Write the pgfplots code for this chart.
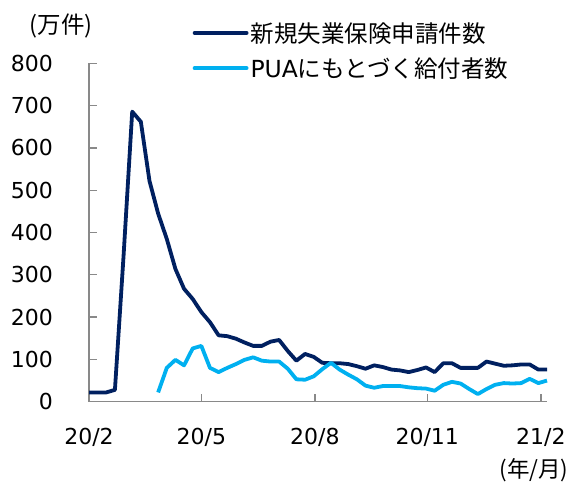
\documentclass[border=0pt]{standalone}
\usepackage{pgfplots}
\pgfplotsset{compat=1.18}
\usepackage{fontspec}
\setmainfont{DejaVu Sans}
\newfontfamily\jp{Noto Sans CJK JP}
\definecolor{navy}{RGB}{0,32,96}
\definecolor{sky}{RGB}{0,176,240}
\definecolor{axgray}{RGB}{137,137,137}
\begin{document}
\begin{tikzpicture}
\useasboundingbox (0pt,0pt) rectangle (578pt,-483pt);
\begin{axis}[
  at={(89pt,-401.7pt)}, anchor=south west,
  scale only axis, width=458pt, height=338.3pt,
  xmin=0, xmax=53, ymin=0, ymax=800,
  axis x line*=bottom, axis y line*=left,
  axis line style={draw=axgray, line width=1.3pt},
  tick align=inside, major tick length=8pt,
  tick style={draw=axgray, line width=1.3pt},
  xtick={0,13,26.14,39.14,52.29},
  xticklabels={20/2,20/5,20/8,20/11,21/2},
  ytick={0,100,...,800},
  /pgf/number format/assume math mode=true,
  tick label style={font=\fontsize{22}{26}\selectfont},
  yticklabel style={anchor=east, inner sep=0pt, xshift=-36pt},
  xticklabel style={anchor=center, inner sep=0pt, yshift=-36pt},
  clip=false,
  legend style={draw=none, fill=none, inner sep=0pt, at={(0.226,1.128)}, anchor=north west,
    font=\fontsize{23.5}{28}\selectfont, row sep=10pt},
  legend cell align=left,
  legend image code/.code={\draw[#1, line cap=round] (2pt,0pt) -- (54pt,0pt);},
]
\addplot[navy, line width=3.8pt, line join=round] coordinates {
(0,22)(1,22)(2,22)(3,28)(4,345)(5,686)(6,662)(7,522)(8,445)(9,385)
(10,314)(11,267)(12,243)(13,212)(14,188)(15,157)(16,155)(17,149)(18,140)(19,132)
(20,132)(21,142)(22,146)(23,120)(24,97)(25,113)(26,106)(27,92)(28,91)(29,91)
(30,89)(31,84)(32,78)(33,86)(34,82)(35,76)(36,74)(37,70)(38,75)(39,81)
(40,70)(41,91)(42,91)(43,80)(44,80)(45,80)(46,95)(47,90)(48,85)(49,86)
(50,88)(51,88)(52,76)(53,76)
};
\addlegendentry{{\jp 新規失業保険申請件数}}
\addplot[sky, line width=3.8pt, line join=round] coordinates {
(8,22)(9,80)(10,99)(11,86)(12,126)(13,132)(14,80)(15,70)(16,80)(17,89)
(18,99)(19,105)(20,97)(21,95)(22,95)(23,78)(24,53)(25,52)(26,60)(27,77)
(28,92)(29,76)(30,64)(31,53)(32,38)(33,33)(34,37)(35,37)(36,37)(37,34)
(38,32)(39,31)(40,26)(41,40)(42,47)(43,43)(44,30)(45,18)(46,30)(47,40)
(48,44)(49,43)(50,44)(51,54)(52,44)(53,50)
};
\addlegendentry{PUA{\jp にもとづく給付者数}}
\end{axis}
\node[font=\jp\fontsize{23.5}{28}\selectfont, inner sep=0pt] at (61pt,-26pt) {(万件)};
\node[font=\jp\fontsize{22.5}{27}\selectfont, inner sep=0pt] at (534pt,-470pt) {(年/月)};
\end{tikzpicture}
\end{document}
